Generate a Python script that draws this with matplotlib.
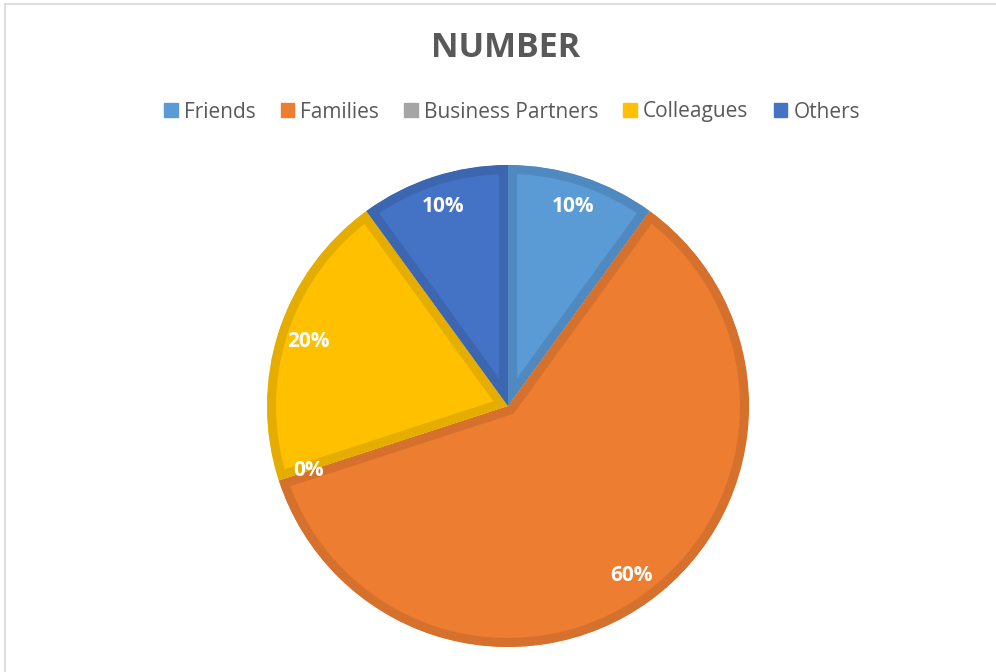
import matplotlib
matplotlib.use("Agg")
from matplotlib import pyplot as plt
from matplotlib.lines import Line2D

plt.rcParams['font.family'] = ['Open Sans', 'DejaVu Sans']

labels = ["Friends", "Families", "Business Partners", "Colleagues", "Others"]
values = [10, 60, 0, 20, 10]
colors = ["#5B9BD5", "#ED7D31", "#A5A5A5", "#FFC000", "#4472C4"]
edge_colors = ["#4F89BF", "#D5712C", "#959595", "#E5AD00", "#3D66B0"]

fig = plt.figure(figsize=(9.96, 6.72), dpi=100)

# pie axes: centre ~ (508, 406) px, radius ~ 241 px
ax = fig.add_axes([267 / 996, 25 / 672, 482 / 996, 482 / 672])
wedges, texts, autotexts = ax.pie(
    values, colors=colors, startangle=90, counterclock=False,
    autopct="%d%%", pctdistance=0.87, radius=1.0,
    textprops=dict(color="white", fontsize=15, fontweight="bold"))
ax.set_xlim(-1, 1)
ax.set_ylim(-1, 1)
ax.set_aspect("equal")
ax.axis("off")

# inner border band on every slice (stroke clipped to the slice itself)
for w, ec in zip(wedges, edge_colors):
    w.set_edgecolor(ec)
    w.set_linewidth(13)
    w.set_clip_on(True)
    w.set_clip_path(w)

fig.text(506 / 996, 1 - 48 / 672, "NUMBER", ha="center", va="center",
         fontsize=24.5, fontweight="bold", color="#595959")

handles = [plt.Rectangle((0, 0), 1, 1, color=c) for c in colors]
fig.legend(handles, labels, loc="center",
           bbox_to_anchor=(512 / 996, 1 - 112 / 672),
           ncol=5, frameon=False, fontsize=15, labelcolor="#595959",
           handlelength=0.65, handleheight=0.65, handletextpad=0.3,
           columnspacing=1.2)

# chart area border (left and top edges visible)
fig.add_artist(Line2D([5 / 996, 5 / 996], [0, 1 - 4 / 672],
                      transform=fig.transFigure, color="#D9D9D9", lw=1.2))
fig.add_artist(Line2D([5 / 996, 1], [1 - 4 / 672, 1 - 4 / 672],
                      transform=fig.transFigure, color="#D9D9D9", lw=1.2))

fig.savefig("out.png", dpi=100, facecolor="white")
